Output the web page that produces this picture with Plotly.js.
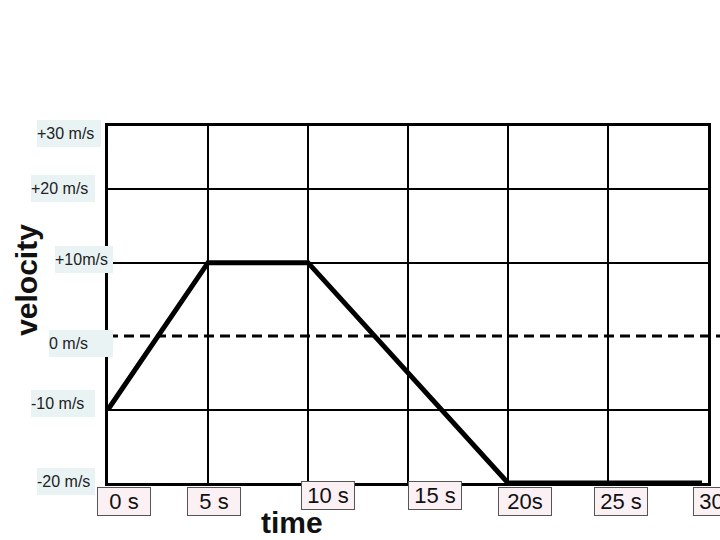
<!DOCTYPE html>
<html>
<head>
<meta charset="utf-8">
<script src="https://cdn.plot.ly/plotly-3.0.1.min.js"></script>
<style>html,body{margin:0;padding:0;background:#fff;}#chart{width:720px;height:540px;}</style>
</head>
<body>
<div id="chart"></div>
<script>
// Data
const timeValues = [0, 5, 10, 20, 29.7];
const velocityValues = [-10, 10, 10, -20, -20];
const xTickValues = [0, 5, 10, 15, 20, 25, 30];
const xTickLabels = ["0 s", "5 s", "10 s", "15 s", "20s", "25 s", "30 s"];
const yTickValues = [30, 20, 10, 0, -10, -20];
const yTickLabels = ["+30 m/s", "+20 m/s", "+10m/s", "0 m/s", "-10 m/s", "-20 m/s"];

// Layout tweaks for label boxes (pixel offsets, widths)
const yLabelXShift = [-39, -45, -24, -27, -45, -42];
const yLabelYShift = [-7, 1, 3, -7.5, 6, 2];
const yLabelWidth = [78, 78, 72, 78, 78, 72];
const xLabelXShift = [16, 5.5, 19.5, 27, 17, 13, 12];
const xLabelYShift = [-18, -18, -12.5, -12.5, -18, -18, -18];

const annotations = [];
yTickValues.forEach((v, i) => {
  const top = (i === 0);
  annotations.push({
    xref: 'paper', x: 0, xanchor: 'center', xshift: yLabelXShift[i],
    yref: top ? 'paper' : 'y', y: top ? 1 : v, yanchor: 'middle', yshift: yLabelYShift[i],
    text: yTickLabels[i], showarrow: false, align: 'left',
    width: yLabelWidth[i] - 14, height: 27, borderpad: 0,
    bgcolor: '#e9f3f4', borderwidth: 0,
    font: {family: 'Liberation Sans, Arial, sans-serif', size: 16, color: '#222'}
  });
});
xTickValues.forEach((v, i) => {
  annotations.push({
    xref: 'x', x: v, xanchor: 'center', xshift: xLabelXShift[i],
    yref: 'paper', y: 0, yanchor: 'middle', yshift: xLabelYShift[i],
    text: xTickLabels[i], showarrow: false, align: 'center',
    width: 52, height: 27, borderpad: 0,
    bgcolor: '#fbf0f3', bordercolor: '#555', borderwidth: 1,
    font: {family: 'Liberation Sans, Arial, sans-serif', size: 22, color: '#111'}
  });
});
annotations.push({
  xref: 'paper', x: -0.135, yref: 'paper', y: 0.569, xanchor: 'center', yanchor: 'middle',
  text: '<b>velocity</b>', textangle: -90, showarrow: false,
  font: {family: 'Liberation Sans, Arial, sans-serif', size: 30, color: '#111'}
});
annotations.push({
  xref: 'paper', x: 0.307, yref: 'paper', y: -0.1597, xanchor: 'center', yanchor: 'bottom',
  text: '<b>time</b>', showarrow: false, borderpad: 0,
  font: {family: 'Liberation Sans, Arial, sans-serif', size: 30, color: '#111'}
});

const trace = {
  x: timeValues, y: velocityValues, type: 'scatter', mode: 'lines',
  line: {color: '#000', width: 5}, cliponaxis: false, hoverinfo: 'skip'
};

const layout = {
  width: 720, height: 540,
  margin: {l: 108, r: 12, t: 126, b: 57},
  paper_bgcolor: '#fff', plot_bgcolor: '#fff',
  showlegend: false,
  xaxis: {
    range: [0, 30], tickvals: [5, 10, 15, 20, 25], showticklabels: false, ticks: '',
    showgrid: true, gridcolor: '#000', gridwidth: 2, zeroline: false,
    showline: true, mirror: true, linecolor: '#000', linewidth: 3, fixedrange: true
  },
  yaxis: {
    range: [-20, 28.6], tickvals: [-10, 10, 20], showticklabels: false, ticks: '',
    showgrid: true, gridcolor: '#000', gridwidth: 2, zeroline: false,
    showline: true, mirror: true, linecolor: '#000', linewidth: 3, fixedrange: true
  },
  shapes: [{
    type: 'line', xref: 'paper', x0: 0, x1: 1.03, yref: 'y', y0: 0, y1: 0,
    line: {color: '#000', width: 3, dash: '10px,6px'}, layer: 'above'
  }],
  annotations: annotations
};

Plotly.newPlot('chart', [trace], layout, {displayModeBar: false, staticPlot: true});
</script>
</body>
</html>
